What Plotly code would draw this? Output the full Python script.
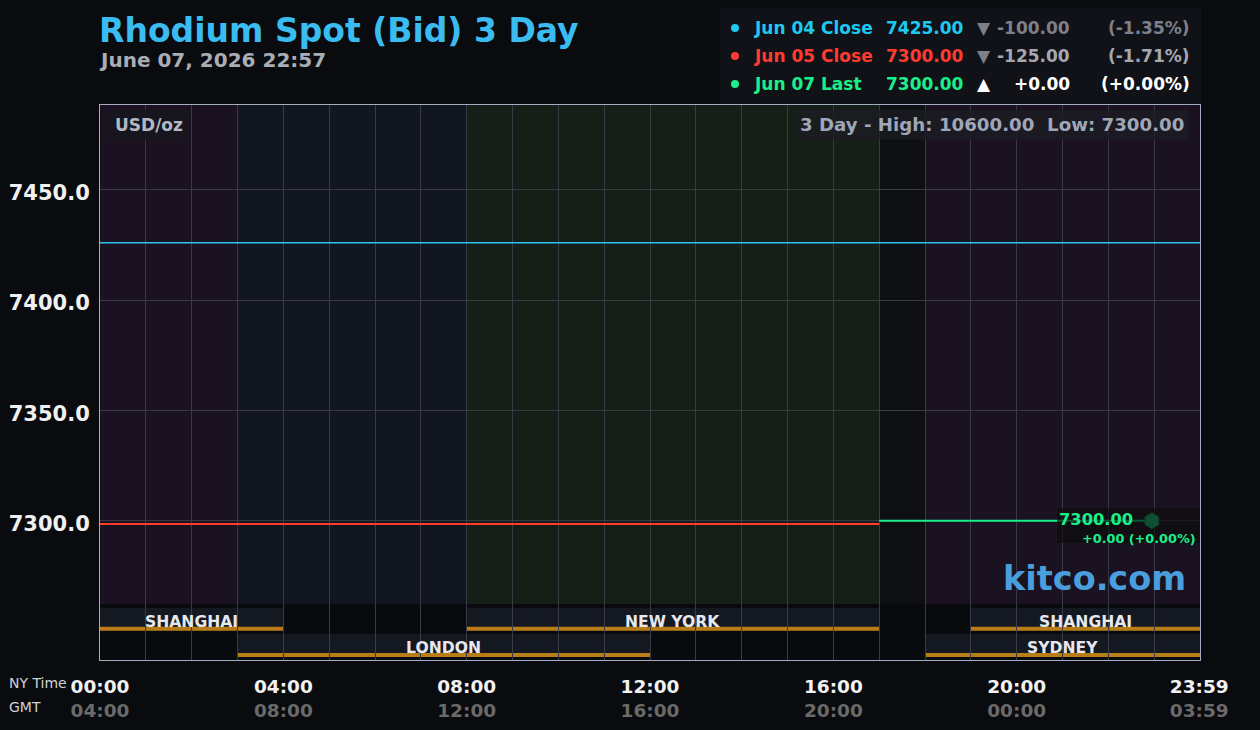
import plotly.graph_objects as go

# ---------------- data ----------------
title_text = "Rhodium Spot (Bid) 3 Day"
subtitle_text = "June 07, 2026 22:57"

ny_ticks = [0, 4, 8, 12, 16, 20, 23.983]
ny_labels = ["00:00", "04:00", "08:00", "12:00", "16:00", "20:00", "23:59"]
gmt_labels = ["04:00", "08:00", "12:00", "16:00", "20:00", "00:00", "03:59"]

y_ticks = [7300, 7350, 7400, 7450]

jun04_x = [0, 24]
jun04_y = [7426, 7426]
jun05_x = [0, 17]
jun05_y = [7298.5, 7298.5]
jun07_x = [17, 22.95]
jun07_y = [7300, 7300]
last_x = [22.95]
last_y = [7300]

legend_labels = ["Jun 04 Close", "Jun 05 Close", "Jun 07 Last"]
legend_values = ["7425.00", "7300.00", "7300.00"]
legend_arrows = ["▼", "▼", "▲"]
legend_changes = ["-100.00", "-125.00", "+0.00"]
legend_pcts = ["(-1.35%)", "(-1.71%)", "(+0.00%)"]

bands_start = [0, 3, 8, 17, 18]
bands_end = [3, 8, 17, 18, 24]

sessions = ["SHANGHAI", "LONDON", "NEW YORK", "SHANGHAI", "SYDNEY"]
sess_start = [0, 3, 8, 19, 18]
sess_end = [4, 12, 17, 24, 24]
sess_row = [0, 1, 0, 0, 1]

high_low = "3 Day - High: 10600.00  Low: 7300.00"
unit_text = "USD/oz"
last_label = "7300.00"
last_change = "+0.00 (+0.00%)"

# ---------------- styles ----------------
BG = "#0a0b0e"
FONT = "DejaVu Sans"
band_colors = ["#1a1220", "#111621", "#151f18", "#0e0f12", "#1a1220"]
legend_colors = ["#1ec8f0", "#ff3b30", "#19f08a"]
change_colors = ["#7d808a", "#a4a7b0", "#ffffff"]
arrow_colors = ["#7d808a", "#7d808a", "#ffffff"]

L, R, T, B = 100, 1200, 105, 660
W, H = 1260, 730


def px(xp):
    return (xp - L) / (R - L)


def py(yp):
    return (B - yp) / (B - T)


fig = go.Figure()

fig.add_trace(go.Scatter(x=jun04_x, y=jun04_y, mode="lines",
                         line=dict(color="#29c5f0", width=1.5), hoverinfo="skip"))
fig.add_trace(go.Scatter(x=jun05_x, y=jun05_y, mode="lines",
                         line=dict(color="#ff3b30", width=2), hoverinfo="skip"))
fig.add_trace(go.Scatter(x=jun07_x, y=jun07_y, mode="lines",
                         line=dict(color="#19f08a", width=2), hoverinfo="skip"))
fig.add_trace(go.Scatter(x=last_x, y=last_y, mode="markers",
                         marker=dict(symbol="hexagon", size=16, color="#1ed884",
                                     line=dict(color="#178f55", width=1)),
                         hoverinfo="skip"))

shapes = []
price_bottom = py(604)
for s, e, c in zip(bands_start, bands_end, band_colors):
    shapes.append(dict(type="rect", xref="x", yref="paper", x0=s, x1=e,
                       y0=price_bottom, y1=1, fillcolor=c, line_width=0, layer="below"))
# session area darkening
shapes.append(dict(type="rect", xref="paper", yref="paper", x0=0, x1=1,
                   y0=0, y1=price_bottom, fillcolor="rgba(10,11,14,0.75)",
                   line_width=0, layer="between"))

row_geom = [(607.7, 630.7), (634, 657)]
annotations = []
for name, s, e, r in zip(sessions, sess_start, sess_end, sess_row):
    top, bot = row_geom[r]
    shapes.append(dict(type="rect", xref="x", yref="paper", x0=s, x1=e,
                       y0=py(bot), y1=py(top), fillcolor="rgba(22,26,35,0.92)",
                       line_width=0, layer="between"))
    shapes.append(dict(type="rect", xref="x", yref="paper", x0=s, x1=e,
                       y0=py(bot), y1=py(bot - 4), fillcolor="#b87d16",
                       line_width=0, layer="between"))
    annotations.append(dict(x=(s + e) / 2, y=py(top + 14), xref="x", yref="paper",
                            text=f"<b>{name}</b>", showarrow=False,
                            font=dict(family=FONT, size=15.6, color="#e6e8ee"),
                            xanchor="center", yanchor="middle"))

# last price label box (over the line and marker, dimming them)
shapes.append(dict(type="rect", xref="paper", yref="paper", x0=px(1057), x1=px(1200),
                   y0=py(543), y1=py(508), fillcolor="rgba(12,14,13,0.68)",
                   line_width=0, layer="above"))

# legend box
shapes.append(dict(type="rect", xref="paper", yref="paper", x0=px(720), x1=px(1201),
                   y0=py(104), y1=py(8), fillcolor="#111217", line_width=0))
row_y = [28, 56, 84]
for i in range(3):
    yy = py(row_y[i])
    c = legend_colors[i]
    shapes.append(dict(type="circle", xref="paper", yref="paper",
                       x0=px(731), x1=px(739), y0=py(row_y[i] + 4), y1=py(row_y[i] - 4),
                       fillcolor=c, line_width=0))
    annotations.append(dict(x=px(752), y=yy, xref="paper", yref="paper",
                            text=f"<b>{legend_labels[i]}</b>", showarrow=False,
                            xanchor="left", yanchor="middle",
                            font=dict(family=FONT, size=17, color=c)))
    annotations.append(dict(x=px(884), y=yy, xref="paper", yref="paper",
                            text=f"<b>{legend_values[i]}</b>", showarrow=False,
                            xanchor="left", yanchor="middle",
                            font=dict(family=FONT, size=17, color=c)))
    annotations.append(dict(x=px(984), y=yy, xref="paper", yref="paper",
                            text=legend_arrows[i], showarrow=False,
                            xanchor="center", yanchor="middle",
                            font=dict(family=FONT, size=17, color=arrow_colors[i])))
    annotations.append(dict(x=px(1072), y=yy, xref="paper", yref="paper",
                            text=f"<b>{legend_changes[i]}</b>", showarrow=False,
                            xanchor="right", yanchor="middle",
                            font=dict(family=FONT, size=17, color=change_colors[i])))
    annotations.append(dict(x=px(1192), y=yy, xref="paper", yref="paper",
                            text=f"<b>{legend_pcts[i]}</b>", showarrow=False,
                            xanchor="right", yanchor="middle",
                            font=dict(family=FONT, size=17, color=change_colors[i])))

# title
annotations.append(dict(x=px(97), y=py(30), xref="paper", yref="paper",
                        text=f"<b>{title_text}</b>", showarrow=False,
                        xanchor="left", yanchor="middle",
                        font=dict(family=FONT, size=33, color="#3bbcf0")))
annotations.append(dict(x=px(97), y=py(60), xref="paper", yref="paper",
                        text=f"<b>{subtitle_text}</b>", showarrow=False,
                        xanchor="left", yanchor="middle",
                        font=dict(family=FONT, size=20, color="#a9adb6")))

# unit box + high/low box
annotations.append(dict(x=px(109), y=py(125), xref="paper", yref="paper",
                        text=f"<b>{unit_text}</b>", showarrow=False,
                        xanchor="left", yanchor="middle", bgcolor="rgba(24,22,30,0.85)",
                        borderpad=5,
                        font=dict(family=FONT, size=17, color="#b3b8c4")))
annotations.append(dict(x=px(1189), y=py(125), xref="paper", yref="paper",
                        text=f"<b>{high_low}</b>", showarrow=False,
                        xanchor="right", yanchor="middle", bgcolor="rgba(28,28,34,0.8)",
                        borderpad=4,
                        font=dict(family=FONT, size=18.2, color="#9ea6b8")))

# last price texts
annotations.append(dict(x=px(1057), y=py(519), xref="paper", yref="paper",
                        text=f"<b>{last_label}</b>", showarrow=False,
                        xanchor="left", yanchor="middle",
                        font=dict(family=FONT, size=16.3, color="#19f08a")))
annotations.append(dict(x=px(1198), y=py(538), xref="paper", yref="paper",
                        text=f"<b>{last_change}</b>", showarrow=False,
                        xanchor="right", yanchor="middle",
                        font=dict(family=FONT, size=12.8, color="#19f08a")))

# kitco
annotations.append(dict(x=px(1188), y=py(578), xref="paper", yref="paper",
                        text="<b>kitco.com</b>", showarrow=False,
                        xanchor="right", yanchor="middle",
                        font=dict(family=FONT, size=33.5, color="#4a9ede")))

# NY Time / GMT
annotations.append(dict(x=px(7), y=py(683), xref="paper", yref="paper",
                        text="NY Time", showarrow=False, xanchor="left", yanchor="middle",
                        font=dict(family=FONT, size=14, color="#d0d2d6")))
annotations.append(dict(x=px(7), y=py(707), xref="paper", yref="paper",
                        text="GMT", showarrow=False, xanchor="left", yanchor="middle",
                        font=dict(family=FONT, size=14, color="#d0d2d6")))

x_ticktext = [f"<b>{a}</b><br><b><span style='color:#6a6a6a'>{b}</span></b>"
              for a, b in zip(ny_labels, gmt_labels)]

fig.update_layout(
    width=W, height=H,
    margin=dict(l=L, r=W - R, t=T, b=H - B, autoexpand=False),
    paper_bgcolor=BG, plot_bgcolor=BG,
    showlegend=False,
    shapes=shapes, annotations=annotations,
    xaxis=dict(range=[0, 24], tickvals=ny_ticks, ticktext=x_ticktext,
               tickfont=dict(family=FONT, size=18.5, color="#f2f2f2"),
               showgrid=True, gridcolor="#383b46", gridwidth=1,
               minor=dict(dtick=1, showgrid=True, gridcolor="#383b46", gridwidth=1),
               zeroline=False, showline=True, mirror=True, linecolor="#a3acc0",
               linewidth=1, ticks="", ticklabelstandoff=10, fixedrange=True,
               automargin=False),
    yaxis=dict(range=[7236.9, 7488.4], tickvals=y_ticks,
               ticktext=[f"{v:.1f}" for v in y_ticks],
               tickfont=dict(family=FONT, size=21, color="#f0f0f0", weight="bold"),
               showgrid=True, gridcolor="#383b46", gridwidth=1,
               zeroline=False, showline=True, mirror=True, linecolor="#a3acc0",
               linewidth=1, ticks="", ticklabelstandoff=5, ticklabelshift=3,
               fixedrange=True, automargin=False),
)

fig.write_html("out.html")
